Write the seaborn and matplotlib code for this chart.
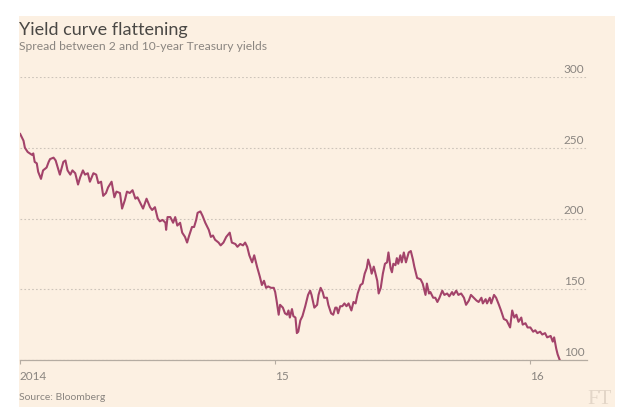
import pandas as pd
import matplotlib
matplotlib.use("Agg")
import matplotlib.pyplot as plt
from matplotlib.patches import Rectangle
from matplotlib.transforms import ScaledTranslation
import seaborn as sns

# =========================
# DATA
# =========================

# days since 2014-01-01
days = [0, 5, 7, 11, 14, 17, 19, 21, 24, 26, 30, 33, 38, 41, 43, 48, 51, 54, 57, 62,
        65, 68, 72, 75, 79, 83, 86, 90, 93, 97, 100, 105, 109, 112, 116, 119, 123, 126, 131, 135,
        138, 143, 146, 150, 153, 157, 161, 165, 168, 172, 176, 181, 186, 189, 193, 197, 200, 204, 208, 209,
        211, 215, 219, 222, 225, 229, 232, 236, 239, 242, 246, 249, 252, 254, 258, 261, 265, 270, 273, 276,
        279, 284, 287, 291, 295, 300, 303, 308, 311, 315, 319, 322, 325, 328, 332, 335, 339, 343, 346, 349,
        352, 355, 359, 363, 365, 367, 370, 372, 376, 379, 382, 384, 386, 389, 391, 394, 396, 398, 401, 404,
        408, 412, 415, 417, 421, 425, 427, 430, 433, 435, 439, 441, 445, 448, 451, 453, 455, 458, 461, 464,
        467, 470, 474, 477, 480, 483, 487, 490, 493, 496, 498, 501, 503, 506, 508, 511, 513, 516, 519, 522,
        525, 527, 530, 532, 534, 537, 539, 541, 544, 546, 549, 552, 556, 559, 562, 564, 568, 573, 576, 580,
        582, 585, 587, 591, 594, 597, 600, 604, 607, 611, 614, 618, 620, 624, 627, 631, 635, 638, 642, 645,
        649, 653, 656, 660, 662, 666, 668, 672, 674, 678, 681, 685, 688, 692, 696, 699, 701, 704, 707, 710,
        713, 717, 719, 723, 726, 730, 734, 737, 740, 744, 747, 751, 754, 759, 762, 764, 767, 769, 772]

# 2-10 year spread, basis points
spread = [260, 255, 250, 247, 246, 245, 246, 240, 239, 233, 228, 234, 236, 240, 242, 243, 241, 236, 231, 240,
          241, 234, 231, 234, 232, 224, 229, 234, 231, 232, 226, 232, 231, 225, 226, 216, 218, 222, 226, 215,
          219, 218, 207, 213, 219, 218, 220, 214, 215, 211, 207, 214, 208, 206, 208, 200, 198, 199, 197, 192,
          201, 201, 197, 201, 195, 197, 190, 187, 183, 188, 194, 194, 199, 204, 205, 202, 197, 192, 187, 188,
          185, 183, 181, 183, 187, 190, 183, 182, 180, 182, 181, 183, 180, 174, 169, 174, 166, 159, 153, 156,
          151, 152, 151, 151, 148, 142, 132, 139, 137, 133, 132, 135, 130, 136, 131, 130, 119, 120, 128, 131,
          138, 146, 149, 146, 137, 139, 146, 151, 148, 144, 144, 139, 133, 132, 137, 137, 133, 138, 138, 140,
          138, 140, 135, 141, 140, 147, 153, 154, 161, 165, 171, 166, 161, 166, 162, 156, 147, 151, 161, 168,
          169, 176, 165, 162, 168, 167, 172, 168, 174, 169, 176, 169, 176, 177, 171, 166, 158, 157, 154, 146,
          154, 147, 148, 144, 144, 141, 144, 149, 146, 147, 145, 148, 146, 149, 146, 147, 144, 139, 142, 146,
          144, 142, 141, 144, 140, 143, 140, 144, 140, 146, 144, 139, 135, 129, 128, 125, 123, 135, 130, 132,
          127, 130, 125, 126, 123, 123, 120, 121, 119, 120, 118, 119, 116, 117, 113, 116, 108, 104, 100]

y_ticks = [100, 150, 200, 250, 300]
x_ticks = ["2014-01-01", "2015-01-01", "2016-01-01"]
x_tick_labels = ["2014", "15", "16"]

title = "Yield curve flattening"
subtitle = "Spread between 2 and 10-year Treasury yields"
source = "Source: Bloomberg"

df = pd.DataFrame({
    "date": pd.Timestamp("2014-01-01") + pd.to_timedelta(days, unit="D"),
    "spread": spread,
})

# =========================
# STYLE
# =========================

sns.set_style("white")
plt.rcParams["font.family"] = ["Lato", "DejaVu Sans"]

bg = "#fcf0e2"
line_col = "#a3436a"
text_dark = "#4a4845"
text_grey = "#8a8580"

fig = plt.figure(figsize=(6.4, 4.16), dpi=100, facecolor="white")
fig.patches.append(Rectangle((19 / 640, 9 / 416), 596 / 640, 391 / 416,
                             transform=fig.transFigure, facecolor=bg,
                             edgecolor="none", zorder=-10))

ax = fig.add_axes([20 / 640, 56 / 416, 567 / 640, 283 / 416])
ax.set_facecolor(bg)
ax.set_zorder(2)

# =========================
# PLOT
# =========================

sns.lineplot(data=df, x="date", y="spread", ax=ax, color=line_col,
             linewidth=1.5, zorder=3)

ax.set_xlim(pd.Timestamp("2014-01-01"), pd.Timestamp("2016-03-22"))
ax.set_ylim(100, 300)

for s in ["top", "left", "right"]:
    ax.spines[s].set_visible(False)
ax.spines["bottom"].set_color("#b5aca2")
ax.spines["bottom"].set_linewidth(0.9)

ax.set_yticks(y_ticks)
ax.yaxis.tick_right()
ax.tick_params(axis="y", length=0, pad=0, labelsize=8.5, labelcolor=text_grey)
ax.yaxis.grid(True, linestyle=(0, (1.5, 2)), color="#cdc4ba", linewidth=0.8)
ax.set_axisbelow(True)
for lab in ax.get_yticklabels():
    lab.set_ha("right")
    lab.set_va("bottom")
    lab.set_transform(lab.get_transform() + ScaledTranslation(-2 / 72, 1.5 / 72, fig.dpi_scale_trans))

ax.set_xticks(pd.to_datetime(x_ticks))
ax.set_xticklabels(x_tick_labels)
ax.tick_params(axis="x", direction="out", length=3, width=0.8, color="#b5aca2",
               pad=5, labelsize=8.5, labelcolor=text_grey, bottom=True)
for lab in ax.get_xticklabels():
    lab.set_ha("left")

ax.set_xlabel("")
ax.set_ylabel("")

# =========================
# TEXTS
# =========================

fig.text(19 / 640, 1 - 35 / 416, title, fontsize=13, color=text_dark,
         va="baseline", ha="left")
fig.text(19 / 640, 1 - 50 / 416, subtitle, fontsize=8.7, color=text_grey,
         va="baseline", ha="left")
fig.text(19 / 640, 1 - 400 / 416, source, fontsize=7.5, color=text_grey,
         va="baseline", ha="left")
fig.text(612 / 640, 1 - 404 / 416, "FT", fontsize=15, color="#e3d6c8",
         va="baseline", ha="right", family="Liberation Serif")

fig.savefig("out.png", dpi=100, facecolor="white")
